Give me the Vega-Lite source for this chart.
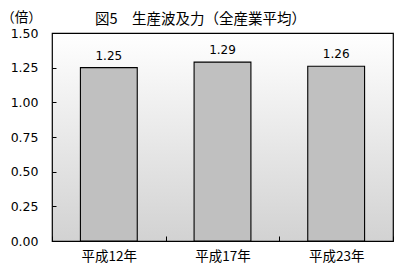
{
  "$schema": "https://vega.github.io/schema/vega-lite/v6.json",
  "width": 341,
  "height": 208,
  "autosize": "none",
  "padding": {"left": 52, "top": 33, "right": 10, "bottom": 33},
  "background": "white",
  "title": {
    "text": "図5　生産波及力（全産業平均）",
    "anchor": "start",
    "frame": "group",
    "dx": 43,
    "offset": -17,
    "fontSize": 14.5,
    "fontWeight": "normal",
    "font": "Noto Sans CJK JP",
    "color": "black"
  },
  "config": {
    "view": {
      "stroke": "black",
      "strokeWidth": 1.2,
      "fill": {
        "gradient": "linear",
        "x1": 0, "y1": 0, "x2": 0, "y2": 1,
        "stops": [
          {"offset": 0, "color": "#ffffff"},
          {"offset": 1, "color": "#d2d2d2"}
        ]
      }
    },
    "font": "Noto Sans CJK JP",
    "axis": {
      "labelColor": "black",
      "domain": false,
      "grid": false,
      "tickColor": "black"
    }
  },
  "data": {
    "values": [
      {"year": "平成12年", "value": 1.25},
      {"year": "平成17年", "value": 1.29},
      {"year": "平成23年", "value": 1.26}
    ]
  },
  "encoding": {
    "x": {
      "field": "year",
      "type": "nominal",
      "sort": null,
      "scale": {"paddingInner": 0, "paddingOuter": 0},
      "axis": {
        "title": null,
        "labelAngle": 0,
        "labelFont": "Noto Sans CJK JP",
        "labelFontSize": 13.5,
        "tickBand": "extent",
        "tickSize": -5,
        "labelPadding": 13
      }
    },
    "y": {
      "field": "value",
      "type": "quantitative",
      "scale": {"domain": [0, 1.5], "nice": false},
      "axis": {
        "values": [0, 0.25, 0.5, 0.75, 1, 1.25, 1.5],
        "format": ".2f",
        "labelFont": "DejaVu Sans",
        "labelFontSize": 12.5,
        "tickSize": -4,
        "labelPadding": 18,
        "title": "（倍）",
        "titleFont": "Noto Sans CJK JP",
        "titleAngle": 0,
        "titleFontSize": 13.5,
        "titleFontWeight": "normal",
        "titleColor": "black",
        "titleX": -31,
        "titleY": -12,
        "titleAlign": "center",
        "titleBaseline": "alphabetic"
      }
    }
  },
  "layer": [
    {
      "mark": {
        "type": "bar",
        "width": {"band": 0.5},
        "color": "#c0c0c0",
        "stroke": "black",
        "strokeWidth": 1.1
      }
    },
    {
      "mark": {
        "type": "text",
        "dy": -12,
        "fontSize": 12,
        "color": "black",
        "font": "DejaVu Sans"
      },
      "encoding": {
        "text": {"field": "value", "type": "quantitative", "format": ".2f"}
      }
    }
  ]
}
